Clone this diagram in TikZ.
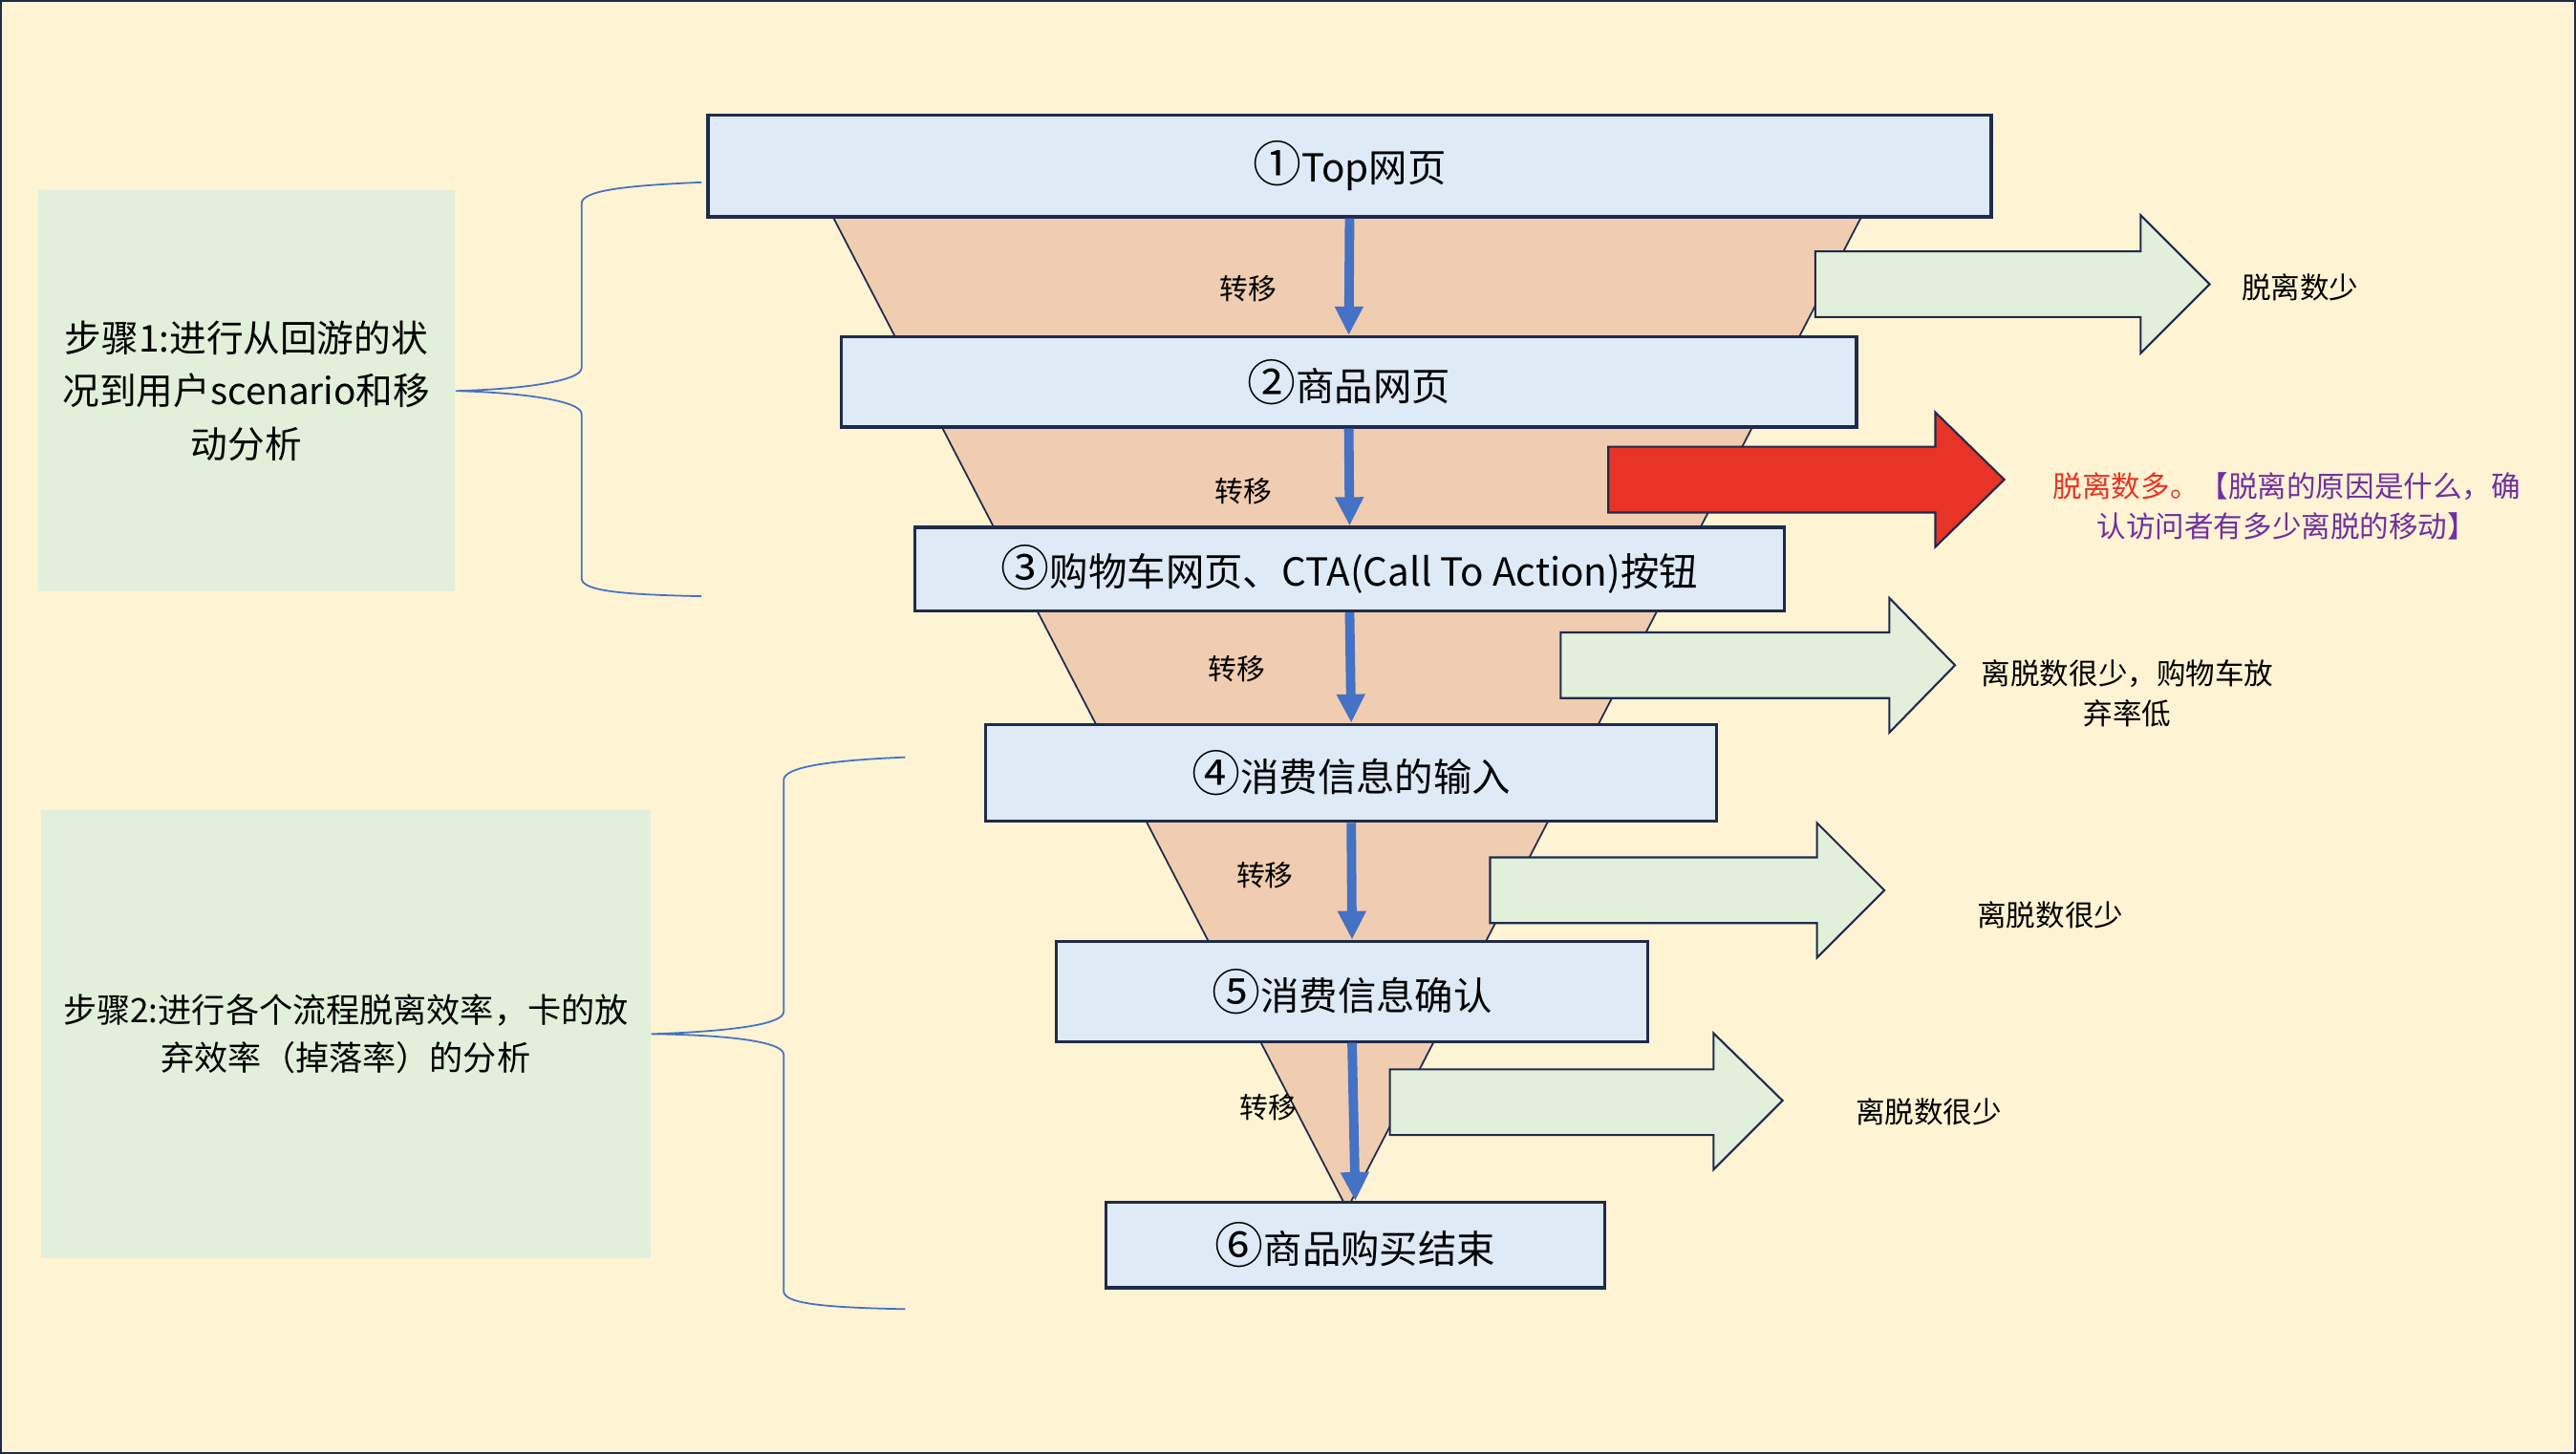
\documentclass[tikz,border=0pt]{standalone}
\usepackage{fontspec}
\setmainfont{Noto Sans CJK SC}
\usepackage{color}
\usepackage{tikz}
\usetikzlibrary{arrows.meta}

\definecolor{bgyellow}{HTML}{FEF3D2}
\definecolor{boxblue}{HTML}{DEEAF6}
\definecolor{navy}{HTML}{1F2B4D}
\definecolor{peach}{HTML}{F0CDB0}
\definecolor{palegreen}{HTML}{E2EFDA}
\definecolor{alarm}{HTML}{E83426}
\definecolor{flowblue}{HTML}{4472C4}
\definecolor{purp}{HTML}{7030A0}
\newcommand\dpx{0.0172cm}
\newcommand\stepmark[1]{{\fontsize{14.5}{14}\selectfont #1}}

\begin{document}
\begin{tikzpicture}[x=\dpx, y=-\dpx,
		box/.style={draw=navy, fill=boxblue, line width=0.9pt, inner sep=0pt, font=\fontsize{11.5}{14}\selectfont},
		stepbox/.style={fill=palegreen, inner sep=0pt, align=center},
		leave/.style={draw=navy, fill=palegreen, line width=0.6pt},
		flow/.style={draw=flowblue, line width=2.8pt, -{Triangle[length=0.3cm,width=0.28cm]}},
		turn/.style={font=\fontsize{8.5}{10}\selectfont},
		note/.style={font=\fontsize{8.7}{12}\selectfont, align=center},
		brace/.style={draw=flowblue, line width=0.5pt}]

			\useasboundingbox (0,0) rectangle (1568,885);
			\fill [bgyellow] (0,0) rectangle (1568,885);
			\draw [navy, line width=1pt] (0,0) rectangle (1568,885);

			\node [stepbox, minimum width=254*\dpx, minimum height=244*\dpx, font=\fontsize{11}{15.7}\selectfont] (s1) at (150,238) {步骤1:进行从回游的状\\况到用户scenario和移\\动分析};
			\node [stepbox, minimum width=371*\dpx, minimum height=273*\dpx, font=\fontsize{10}{14.2}\selectfont] (s2) at (210.5,629.5) {步骤2:进行各个流程脱离效率，卡的放\\弃效率（掉落率）的分析};

			\coordinate (b1top) at (427,111);
			\coordinate (b1bot) at (427,363);
			\coordinate (b2top) at (551,461);
			\coordinate (b2bot) at (551,797);
			\draw [brace] (b1top) .. controls (380,113) and (354,116) .. (354,124) -- (354,224) .. controls (354,232) and (318,237) .. (s1.east) .. controls (318,239) and (354,244) .. (354,252) -- (354,352) .. controls (354,360) and (380,362) .. (b1bot);
			\draw [brace] (b2top) .. controls (504,463) and (477,467) .. (477,475) -- (477,616) .. controls (477,624) and (442,628) .. (s2.east) .. controls (442,630) and (477,634) .. (477,642) -- (477,786) .. controls (477,794) and (504,796) .. (b2bot);

			\draw [fill=peach, draw=navy, line width=0.5pt] (507,132) -- (1133,132) -- (820,736) -- cycle;

			\draw [leave] (1105,153) -- (1303,153) -- (1303,131) -- (1345,173) -- (1303,215) -- (1303,193) -- (1105,193) -- cycle;
			\draw [leave, fill=alarm] (979,272) -- (1178,272) -- (1178,251) -- (1220,292) -- (1178,333) -- (1178,312) -- (979,312) -- cycle;
			\draw [leave] (950,385) -- (1150,385) -- (1150,364) -- (1190,405) -- (1150,446) -- (1150,425) -- (950,425) -- cycle;
			\draw [leave] (907,522) -- (1106,522) -- (1106,501) -- (1147,542) -- (1106,583) -- (1106,562) -- (907,562) -- cycle;
			\draw [leave] (846,651) -- (1043,651) -- (1043,629) -- (1085,670) -- (1043,712) -- (1043,691) -- (846,691) -- cycle;

			\node [box, minimum width=781*\dpx, minimum height=62*\dpx] (p1) at (821.5,101) {\stepmark{①}Top网页};
			\node [box, minimum width=618*\dpx, minimum height=55*\dpx] (p2) at (821,232.5) {\stepmark{②}商品网页};
			\node [box, minimum width=529*\dpx, minimum height=51*\dpx] (p3) at (821.5,346.5) {\stepmark{③}购物车网页、CTA(Call To Action)按钮};
			\node [box, minimum width=445*\dpx, minimum height=59*\dpx] (p4) at (822.5,470.5) {\stepmark{④}消费信息的输入};
			\node [box, minimum width=360*\dpx, minimum height=61*\dpx] (p5) at (823,603.5) {\stepmark{⑤}消费信息确认};
			\node [box, minimum width=304*\dpx, minimum height=52*\dpx] (p6) at (825,758) {\stepmark{⑥}商品购买结束};

			\draw [flow] (p1.south) -- (p2.north);
			\draw [flow] (p2.south) -- (p3.north);
			\draw [flow] (p3.south) -- (p4.north);
			\draw [flow] (p4.south) -- (p5.north);
			\draw [flow] (p5.south) -- (p6.north);

			\node [turn] (t1) at (760,176) {转移};
			\node [turn] (t2) at (757,299) {转移};
			\node [turn] (t3) at (753,407) {转移};
			\node [turn] (t4) at (770,533) {转移};
			\node [turn] (t5) at (772,674) {转移};

			\node [note] (n1) at (1400,175) {脱离数少};
			\node [note] (n2) at (1392,308) {{\color{alarm}脱离数多。}{\color{purp}【脱离的原因是什么，确}\\{\color{purp}认访问者有多少离脱的移动】}};
			\node [note] (n3) at (1295,422) {离脱数很少，购物车放\\弃率低};
			\node [note] (n4) at (1248,557) {离脱数很少};
			\node [note] (n5) at (1174,677) {离脱数很少};

		\end{tikzpicture}
\end{document}
